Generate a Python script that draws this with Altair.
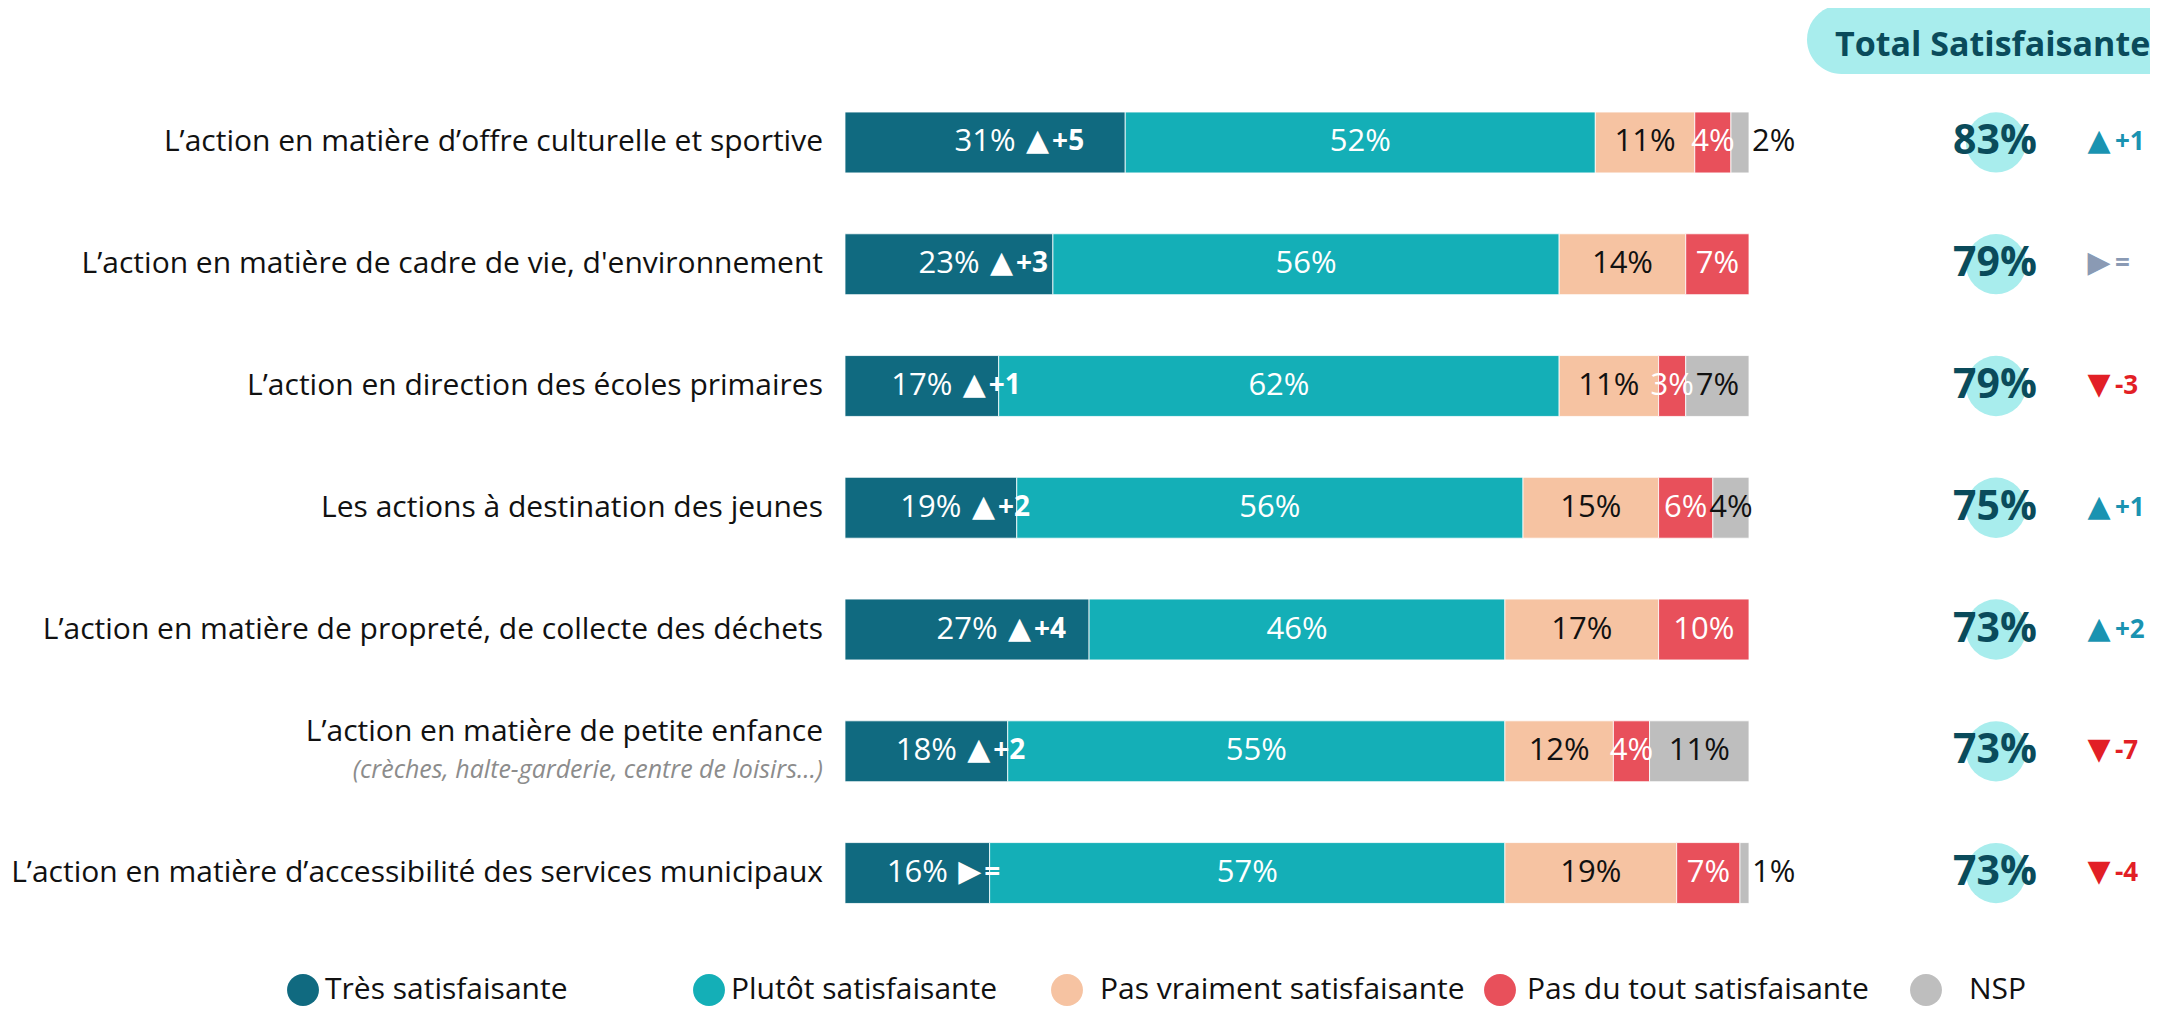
import altair as alt
import pandas as pd

categories = [
    "L’action en matière d’offre culturelle et sportive",
    "L’action en matière de cadre de vie, d'environnement",
    "L’action en direction des écoles primaires",
    "Les actions à destination des jeunes",
    "L’action en matière de propreté, de collecte des déchets",
    "L’action en matière de petite enfance",
    "L’action en matière d’accessibilité des services municipaux",
]
sublabels = ["", "", "", "", "", "(crèches, halte-garderie, centre de loisirs…)", ""]

series = ["Très satisfaisante", "Plutôt satisfaisante", "Pas vraiment satisfaisante",
          "Pas du tout satisfaisante", "NSP"]
colors = ["#106A80", "#14AFB7", "#F6C3A2", "#E8505B", "#BEBEBE"]
label_colors = ["white", "white", "#111111", "white", "#111111"]

tres = [31, 23, 17, 19, 27, 18, 16]
plutot = [52, 56, 62, 56, 46, 55, 57]
pas_vraiment = [11, 14, 11, 15, 17, 12, 19]
pas_du_tout = [4, 7, 3, 6, 10, 4, 7]
nsp = [2, 0, 7, 4, 0, 11, 1]

tres_delta = ["▲+5", "▲+3", "▲+1", "▲+2", "▲+4", "▲+2", "▶="]
total = [83, 79, 79, 75, 73, 73, 73]
total_delta = ["▲+1", "▶=", "▼-3", "▲+1", "▲+2", "▼-7", "▼-4"]

FONT = "Open Sans"
ARROW_FONT = "DejaVu Sans"
UP, DOWN, EQ = "#1A93B1", "#E21F26", "#8A9AB4"

# ---- build tables ----
values = [tres, plutot, pas_vraiment, pas_du_tout, nsp]
seg_rows = []
for i, cat in enumerate(categories):
    cum = 0
    for s_idx, s in enumerate(series):
        v = values[s_idx][i]
        if v <= 0:
            continue
        start, end = cum, cum + v
        cum = end
        seg_rows.append({
            "cat": cat, "series": s, "start": start, "end": end,
            "mid": (start + end) / 2, "label": f"{v}%",
            "tcolor": label_colors[s_idx], "outside": (s == "NSP" and v <= 2),
        })
seg = pd.DataFrame(seg_rows)


def arrow_color(d):
    return UP if d.startswith("▲") else (DOWN if d.startswith("▼") else EQ)


rows = pd.DataFrame({
    "cat": categories, "sub": sublabels,
    "tres_mid": [v / 2 for v in tres],
    "tres_arrow": [d[0] for d in tres_delta],
    "tres_num": [d[1:] for d in tres_delta],
    "total": [f"{t}%" for t in total],
    "t_arrow": [d[0] for d in total_delta],
    "t_num": [d[1:] for d in total_delta],
    "tdcolor": [arrow_color(d) for d in total_delta],
})
leg = pd.DataFrame({"series": series})
header = pd.DataFrame({"t": ["Total Satisfaisante"]})

# ---- scales ----
xscale = alt.Scale(domain=[-92.588, 144.358], nice=False, zero=False)
yscale = alt.Scale(domain=categories, range=[73.6, 925.9], paddingInner=0.5, paddingOuter=0.25)
cscale = alt.Scale(domain=series, range=colors)
Y = alt.Y("cat:N", scale=yscale, axis=None, sort=categories)

bars = alt.Chart(seg).mark_bar(stroke="white", strokeWidth=0.8).encode(
    x=alt.X("start:Q", scale=xscale, axis=None),
    x2="end:Q",
    y=Y,
    color=alt.Color("series:N", scale=cscale, legend=None),
)

inside = alt.Chart(seg).transform_filter("!datum.outside").mark_text(
    font=FONT, fontSize=31, align="center", baseline="middle"
).encode(
    x=alt.X("mid:Q", scale=xscale, axis=None), y=Y,
    text="label:N", color=alt.Color("tcolor:N", scale=None),
)
outside = alt.Chart(seg).transform_filter("datum.outside").mark_text(
    font=FONT, fontSize=31, align="left", baseline="middle", dx=3, color="#111111"
).encode(
    x=alt.X("end:Q", scale=xscale, axis=None), y=Y, text="label:N",
)

delta_arrow = alt.Chart(rows).mark_text(
    font=ARROW_FONT, fontSize=30, align="left", baseline="middle", dx=41, dy=-1, color="white"
).encode(x=alt.X("tres_mid:Q", scale=xscale, axis=None), y=Y, text="tres_arrow:N")
delta_num = alt.Chart(rows).mark_text(
    font=FONT, fontSize=28, fontWeight="bold", align="left", baseline="middle", dx=67, color="white"
).encode(x=alt.X("tres_mid:Q", scale=xscale, axis=None), y=Y, text="tres_num:N")

lab_main = alt.Chart(rows).transform_filter("datum.sub == ''").mark_text(
    font=FONT, fontSize=30, align="right", baseline="middle", color="#111111"
).encode(x=alt.value(815), y=Y, text="cat:N")
lab_main2 = alt.Chart(rows).transform_filter("datum.sub != ''").mark_text(
    font=FONT, fontSize=30, align="right", baseline="middle", color="#111111", dy=-19
).encode(x=alt.value(815), y=Y, text="cat:N")
lab_sub = alt.Chart(rows).transform_filter("datum.sub != ''").mark_text(
    font=FONT, fontSize=25, fontStyle="italic", align="right", baseline="middle", color="#8C8C8C", dy=19
).encode(x=alt.value(815), y=Y, text="sub:N")

tot_circ = alt.Chart(rows).mark_circle(size=3632, opacity=1, color="#A8EDED").encode(
    x=alt.value(1988), y=Y)
tot_text = alt.Chart(rows).mark_text(
    font=FONT, fontSize=41, fontWeight="bold", align="center", baseline="middle", color="#0A4B5B"
).encode(x=alt.value(1987), y=Y, text="total:N")
tot_arrow = alt.Chart(rows).mark_text(
    font=ARROW_FONT, fontSize=30, align="center", baseline="middle", dy=-1
).encode(x=alt.value(2091), y=Y, text="t_arrow:N", color=alt.Color("tdcolor:N", scale=None))
tot_num = alt.Chart(rows).mark_text(
    font=FONT, fontSize=26, fontWeight="bold", align="left", baseline="middle"
).encode(x=alt.value(2107), y=Y, text="t_num:N", color=alt.Color("tdcolor:N", scale=None))

pill = alt.Chart(header).mark_rect(color="#A8EDED", cornerRadius=35).encode(
    x=alt.value(1799), x2=alt.value(2220), y=alt.value(-3), y2=alt.value(66))
pill_text = alt.Chart(header).mark_text(
    font=FONT, fontSize=34, fontWeight="bold", align="left", baseline="middle", color="#0A4B5B"
).encode(x=alt.value(1827), y=alt.value(38), text="t:N")

# legend: one circle + one label per series, positioned along the bottom
leg_circle_x = [295, 701, 1059, 1492, 1918]
leg_text_x = [317, 723, 1092, 1519, 1961]
legend_layers = []
for s, cx, tx in zip(series, leg_circle_x, leg_text_x):
    base = alt.Chart(leg).transform_filter(alt.datum.series == s)
    legend_layers.append(base.mark_circle(size=1018, opacity=1).encode(
        x=alt.value(cx), y=alt.value(982),
        color=alt.Color("series:N", scale=cscale, legend=None)))
    legend_layers.append(base.mark_text(
        font=FONT, fontSize=30, align="left", baseline="middle", color="#111111"
    ).encode(x=alt.value(tx), y=alt.value(982), text="series:N"))

chart = alt.layer(
    bars, inside, outside, delta_arrow, delta_num, lab_main, lab_main2, lab_sub,
    tot_circ, tot_text, tot_arrow, tot_num, pill, pill_text, *legend_layers
).properties(
    width=2142, height=1001, padding=0, autosize="none"
).configure_view(stroke=None)

chart.save("out.html", embed_options={"renderer": "svg", "actions": False})
